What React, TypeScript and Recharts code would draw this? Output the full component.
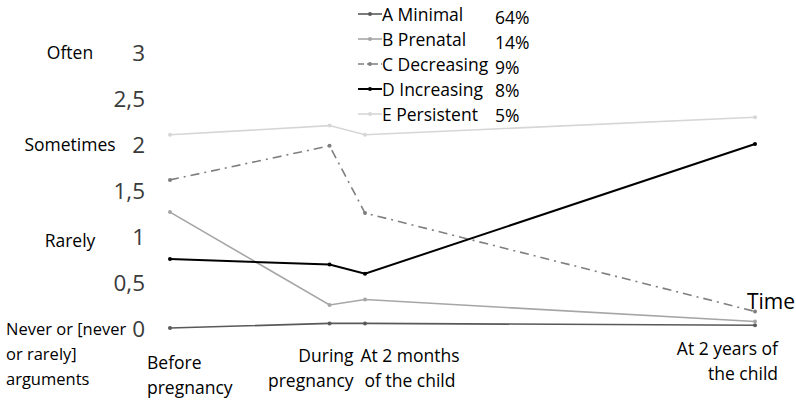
import React from 'react';
import { LineChart, Line, XAxis, YAxis, Legend } from 'recharts';

const timePoints = [-9, 0, 2, 24];
const timeLabels = [
  ['Before', 'pregnancy'],
  ['During', 'pregnancy'],
  ['At 2 months', 'of the child'],
  ['At 2 years of', 'the child'],
];
const seriesA = [0.0, 0.05, 0.05, 0.03];
const seriesB = [1.26, 0.25, 0.31, 0.07];
const seriesC = [1.61, 1.98, 1.25, 0.18];
const seriesD = [0.75, 0.69, 0.59, 2.0];
const seriesE = [2.1, 2.2, 2.1, 2.29];
const seriesNames = ['A Minimal', 'B Prenatal', 'C Decreasing', 'D Increasing', 'E Persistent'];
const seriesShares = ['64%', '14%', '9%', '8%', '5%'];
const yTicks = [0, 0.5, 1, 1.5, 2, 2.5, 3];
const yCategoryLabels: Record<number, string[]> = {
  3: ['Often'],
  2: ['Sometimes'],
  1: ['Rarely'],
  0: ['Never or [never', 'or rarely]', 'arguments'],
};

const keys = ['A', 'B', 'C', 'D', 'E'];
const colors = ['#595959', '#a6a6a6', '#7f7f7f', '#000000', '#d6d6d6'];
const dashes = [undefined, undefined, '9 5 2 5', undefined, undefined];
const widths = [1.6, 1.6, 1.6, 2, 1.6];

const allSeries = [seriesA, seriesB, seriesC, seriesD, seriesE];
const data = timePoints.map((t, i) => {
  const row: any = { t };
  keys.forEach((k, j) => {
    row[k] = allSeries[j][i];
  });
  return row;
});

const FONT = '"Open Sans", sans-serif';

const YTick = (props: any) => {
  const { x, y, payload } = props;
  const v = payload.value;
  const cat = yCategoryLabels[v];
  return (
    <g>
      <text x={x - 25} y={y} textAnchor="end" dominantBaseline="central" fontSize={22.5} fill="#3a3a3a" fontFamily={FONT}>
        {String(v).replace('.', ',')}
      </text>
      {cat && cat.length === 1 && (
        <text x={x - 100} y={y + (v === 1 ? 4 : 0)} textAnchor="middle" dominantBaseline="central" fontSize={17.5} fill="#000" fontFamily={FONT}>
          {cat[0]}
        </text>
      )}
      {cat && cat.length > 1 &&
        cat.map((line, i) => (
          <text key={i} x={x - 164} y={y + i * 25} textAnchor="start" dominantBaseline="central" fontSize={16.5} fill="#000" fontFamily={FONT}>
            {line}
          </text>
        ))}
    </g>
  );
};

const xAnchors = ['start', 'end', 'middle', 'end'];
const xOffsets = [-23, 24, 45, 23];
const xDy = [34, 27, 27, 20];

const XTick = (props: any) => {
  const { x, y, payload, index } = props;
  const i = timePoints.indexOf(payload.value);
  const idx = i >= 0 ? i : index;
  const lines = timeLabels[idx];
  return (
    <g>
      {lines.map((line, k) => (
        <text
          key={k}
          x={x + xOffsets[idx]}
          y={y + xDy[idx] + k * 25}
          textAnchor={xAnchors[idx] as any}
          dominantBaseline="central"
          fontSize={17.5}
          fill="#000"
          fontFamily={FONT}
        >
          {line}
        </text>
      ))}
    </g>
  );
};

const LegendContent = () => (
  <div style={{ fontFamily: FONT, fontSize: 17.5, color: '#000' }}>
    {seriesNames.map((name, i) => (
      <div key={name} style={{ height: 25, display: 'flex', alignItems: 'center', position: 'relative' }}>
        <svg width={24} height={10} style={{ flex: 'none' }}>
          <line x1={0} y1={5} x2={24} y2={5} stroke={colors[i]} strokeWidth={widths[i]} strokeDasharray={dashes[i] ? '6 3 2 3' : undefined} />
          <circle cx={12} cy={5} r={2} fill={colors[i]} />
        </svg>
        <span style={{ whiteSpace: 'nowrap' }}>{name}</span>
        <span style={{ position: 'absolute', left: 137, top: 2 + (i < 3 ? 2 : 0) }}>{seriesShares[i]}</span>
      </div>
    ))}
  </div>
);

export default function App() {
  return (
    <div style={{ position: 'absolute', left: 0, top: 0, width: 796, height: 402, background: '#fff' }}>
      <LineChart width={796} height={402} data={data} margin={{ top: 52, right: 41, bottom: 14, left: 0 }}>
        <XAxis
          dataKey="t"
          type="number"
          domain={[-9, 24]}
          ticks={timePoints}
          axisLine={false}
          tickLine={false}
          tickSize={0}
          tickMargin={0}
          height={60}
          tick={<XTick />}
          interval={0}
          label={(p: any) => {
            const vb = p.viewBox;
            return (
              <text x={vb.x + vb.width - 8} y={vb.y - 27} fontSize={21} fill="#000" fontFamily={FONT} dominantBaseline="central">
                Time
              </text>
            );
          }}
        />
        <YAxis
          type="number"
          domain={[0, 3]}
          ticks={yTicks}
          width={170}
          axisLine={false}
          tickLine={false}
          tickSize={0}
          tickMargin={0}
          tick={<YTick />}
          interval={0}
        />
        <Legend
          layout="horizontal"
          verticalAlign="middle"
          align="center"
          content={<LegendContent />}
          wrapperStyle={{ position: 'absolute', top: 1, left: 358, width: 200, height: 125 }}
        />
        {keys.map((k, i) => (
          <Line
            key={k}
            dataKey={k}
            type="linear"
            stroke={colors[i]}
            strokeWidth={widths[i]}
            strokeDasharray={dashes[i]}
            dot={{ r: 2, fill: colors[i], stroke: colors[i], strokeWidth: 0 }}
            activeDot={false}
            isAnimationActive={false}
          />
        ))}
      </LineChart>
    </div>
  );
}
